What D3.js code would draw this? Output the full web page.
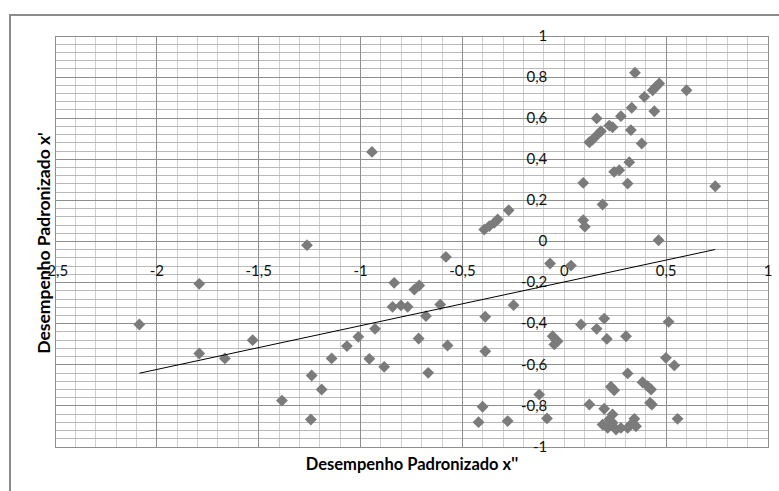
<!DOCTYPE html>
<html>
<head>
<meta charset="utf-8">
<script src="https://cdn.jsdelivr.net/npm/d3@7"></script>
<style>
  html, body { margin: 0; padding: 0; background: #fff; }
  svg { display: block; }
</style>
</head>
<body>
<svg id="chart" width="779" height="491"></svg>
<script>
// Standardized performance scores: x'' (horizontal) against x' (vertical)
const xValues = [
  0.347, 0.466, 0.450, 0.434, 0.393, 0.600, 0.331, 0.442, 0.278, 0.159,
  0.221, 0.237, 0.180, 0.164, 0.139, 0.123, 0.327, 0.380, 0.319, 0.270,
  0.245, 0.311, 0.093, 0.741, 0.188, 0.093, 0.101, 0.463, -0.393, -0.368,
  -0.344, -0.327, -0.273, -0.944, -1.263, -1.792, -0.835, -2.086, -0.929, -1.011,
  -1.067, -1.530, -1.792, -1.666, -1.142, -0.957, -0.884, -1.240, -1.191, -1.386,
  -1.244, -0.581, -0.070, 0.033, -0.736, -0.712, -0.843, -0.802, -0.769, -0.679,
  -0.609, -0.249, -0.388, -0.715, -0.573, -0.388, -0.668, -0.057, -0.033, -0.049,
  0.082, 0.159, 0.196, 0.209, 0.303, 0.512, 0.499, 0.540, 0.311, 0.384,
  0.409, 0.426, 0.229, 0.245, -0.123, -0.401, 0.123, 0.196, 0.421, 0.430,
  -0.085, -0.421, -0.278, 0.556, 0.237, 0.344, 0.188, 0.213, 0.237, 0.254,
  0.278, 0.311, 0.327, 0.352, 0.221
];
const yValues = [
  0.821, 0.769, 0.753, 0.736, 0.704, 0.736, 0.651, 0.634, 0.610, 0.599,
  0.564, 0.556, 0.537, 0.521, 0.496, 0.483, 0.542, 0.477, 0.386, 0.347,
  0.339, 0.282, 0.285, 0.269, 0.180, 0.104, 0.072, 0.006, 0.058, 0.075,
  0.091, 0.107, 0.152, 0.436, -0.018, -0.206, -0.201, -0.404, -0.425, -0.464,
  -0.509, -0.480, -0.545, -0.569, -0.569, -0.571, -0.610, -0.652, -0.720, -0.774,
  -0.866, -0.075, -0.107, -0.117, -0.234, -0.214, -0.318, -0.311, -0.318, -0.363,
  -0.307, -0.310, -0.366, -0.472, -0.506, -0.534, -0.639, -0.461, -0.485, -0.501,
  -0.404, -0.425, -0.375, -0.474, -0.461, -0.391, -0.566, -0.603, -0.642, -0.685,
  -0.704, -0.720, -0.707, -0.724, -0.745, -0.804, -0.793, -0.814, -0.785, -0.793,
  -0.861, -0.879, -0.874, -0.863, -0.842, -0.863, -0.891, -0.907, -0.882, -0.915,
  -0.907, -0.907, -0.891, -0.899, -0.866
];

// Linear trend line endpoints (x'' range of the data)
const trendX = [-2.086, 0.741];
const trendY = [-0.641, -0.039];

// Axis ticks and labels
const xTicks = [-2.5, -2, -1.5, -1, -0.5, 0, 0.5, 1];
const xTickLabels = ["-2,5", "-2", "-1,5", "-1", "-0,5", "0", "0,5", "1"];
const yTicks = [1, 0.8, 0.6, 0.4, 0.2, 0, -0.2, -0.4, -0.6, -0.8, -1];
const yTickLabels = ["1", "0,8", "0,6", "0,4", "0,2", "0", "-0,2", "-0,4", "-0,6", "-0,8", "-1"];

const xTitle = "Desempenho Padronizado x''";
const yTitle = "Desempenho Padronizado x'";

const svg = d3.select("#chart");
const plot = { left: 55, right: 768, top: 36, bottom: 447 };

const x = d3.scaleLinear().domain([-2.5, 1]).range([plot.left, plot.right]);
const y = d3.scaleLinear().domain([-1, 1]).range([plot.bottom, plot.top]);

const font = "Lato, 'Open Sans', sans-serif";

// Chart area frame
svg.append("rect")
  .attr("x", 10).attr("y", 15)
  .attr("width", 820).attr("height", 520)
  .attr("fill", "#fff")
  .attr("stroke", "#8c8c8c")
  .attr("stroke-width", 2);

const grid = svg.append("g");

// Minor gridlines
const xMinor = d3.range(-25, 11).map(d => d / 10);
const yMinor = d3.range(-25, 26).map(d => d * 0.04);
grid.selectAll("line.xminor").data(xMinor).join("line")
  .attr("x1", d => x(d)).attr("x2", d => x(d))
  .attr("y1", plot.top).attr("y2", plot.bottom)
  .attr("stroke", "#cfcfcf").attr("stroke-width", 1).attr("shape-rendering", "crispEdges");
grid.selectAll("line.yminor").data(yMinor).join("line")
  .attr("x1", plot.left).attr("x2", plot.right)
  .attr("y1", d => y(d)).attr("y2", d => y(d))
  .attr("stroke", "#b9b9b9").attr("stroke-width", 1).attr("shape-rendering", "crispEdges");

// Major gridlines (the x'' = 0 line stays light)
grid.selectAll("line.xmajor").data(xTicks.filter(d => d !== 0)).join("line")
  .attr("x1", d => x(d)).attr("x2", d => x(d))
  .attr("y1", plot.top).attr("y2", plot.bottom)
  .attr("stroke", "#8e8e8e").attr("stroke-width", 1).attr("shape-rendering", "crispEdges");
grid.selectAll("line.ymajor").data(yTicks).join("line")
  .attr("x1", plot.left).attr("x2", plot.right)
  .attr("y1", d => y(d)).attr("y2", d => y(d))
  .attr("stroke", "#8e8e8e").attr("stroke-width", 1).attr("shape-rendering", "crispEdges");

// Plot area border
svg.append("rect")
  .attr("x", plot.left).attr("y", plot.top)
  .attr("width", plot.right - plot.left).attr("height", plot.bottom - plot.top)
  .attr("fill", "none").attr("stroke", "#8e8e8e").attr("shape-rendering", "crispEdges");

// Tick labels (axes cross at the origin)
svg.append("g").selectAll("text").data(xTicks).join("text")
  .attr("x", d => x(d))
  .attr("y", y(0) + 31)
  .attr("text-anchor", "middle")
  .attr("dominant-baseline", "middle")
  .attr("font-family", font).attr("font-size", 15).attr("fill", "#111")
  .text((d, i) => xTickLabels[i]);

svg.append("g").selectAll("text").data(yTicks).join("text")
  .attr("x", x(0) - 17)
  .attr("y", d => y(d) + 1)
  .attr("text-anchor", "end")
  .attr("dominant-baseline", "middle")
  .attr("font-family", font).attr("font-size", 15).attr("fill", "#111")
  .text((d, i) => yTickLabels[i]);

// Points: rotated squares
const diamond = d3.symbol().type(d3.symbolSquare).size(70);
svg.append("g").selectAll("path").data(xValues).join("path")
  .attr("d", diamond)
  .attr("transform", (d, i) => `translate(${x(d)},${y(yValues[i])}) rotate(45)`)
  .attr("fill", "#7b7b7b");

// Trend line
svg.append("path")
  .datum(trendX.map((d, i) => [d, trendY[i]]))
  .attr("d", d3.line().x(d => x(d[0])).y(d => y(d[1])))
  .attr("fill", "none").attr("stroke", "#000").attr("stroke-width", 1);

// Axis titles
svg.append("text")
  .attr("x", 412).attr("y", 470)
  .attr("text-anchor", "middle")
  .attr("font-family", font).attr("font-weight", "bold").attr("font-size", 16.5)
  .attr("fill", "#000")
  .text(xTitle);

svg.append("text")
  .attr("transform", `translate(50,243) rotate(-90)`)
  .attr("text-anchor", "middle")
  .attr("font-family", font).attr("font-weight", "bold").attr("font-size", 17.5)
  .attr("fill", "#000")
  .text(yTitle);
</script>
</body>
</html>
